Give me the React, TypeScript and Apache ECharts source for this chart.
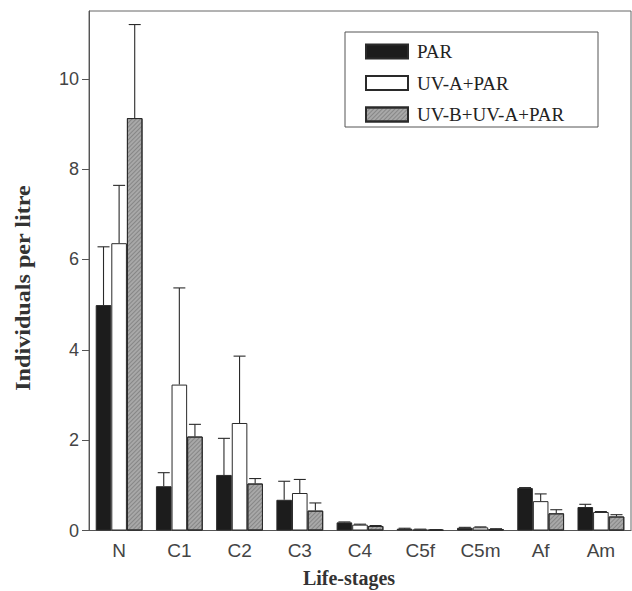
import React, { useEffect, useRef } from "react";
import * as echarts from "echarts";

const categories = ["N", "C1", "C2", "C3", "C4", "C5f", "C5m", "Af", "Am"];
const seriesNames = ["PAR", "UV-A+PAR", "UV-B+UV-A+PAR"];
const parMean = [4.99, 0.98, 1.23, 0.68, 0.18, 0.04, 0.06, 0.94, 0.52];
const parUpper = [6.28, 1.28, 2.04, 1.09, 0.19, 0.05, 0.07, 0.95, 0.58];
const uvaMean = [6.36, 3.23, 2.38, 0.83, 0.13, 0.02, 0.07, 0.65, 0.41];
const uvaUpper = [7.64, 5.37, 3.86, 1.13, 0.14, 0.03, 0.08, 0.81, 0.42];
const uvbMean = [9.13, 2.08, 1.04, 0.44, 0.1, 0.015, 0.03, 0.38, 0.31];
const uvbUpper = [11.2, 2.35, 1.15, 0.61, 0.11, 0.02, 0.04, 0.46, 0.35];
const yTicks = [0, 2, 4, 6, 8, 10];
const xTitle = "Life-stages";
const yTitle = "Individuals per litre";

const BAR_W = 15.6;
const fills = ["#1c1c1c", "#ffffff", "#a8a8a8"];

export default function App() {
  const ref = useRef<HTMLDivElement>(null);
  useEffect(() => {
    if (!ref.current) return;
    const chart = echarts.init(ref.current, undefined, { renderer: "svg" });
    const means = [parMean, uvaMean, uvbMean];
    const uppers = [parUpper, uvaUpper, uvbUpper];

    const barSeries = seriesNames.map((name, i) => ({
      name,
      type: "bar",
      data: means[i],
      barWidth: BAR_W,
      barGap: "0%",
      itemStyle: {
        color: fills[i],
        borderColor: "#2a2a2a",
        borderWidth: 1,
        ...(i === 2
          ? {
              decal: {
                symbol: "rect",
                symbolSize: 1,
                dashArrayX: [1, 0],
                dashArrayY: [1, 2],
                rotation: -Math.PI / 4,
                color: "rgba(70,70,70,0.35)",
              },
            }
          : {}),
      },
      emphasis: { disabled: true },
      z: 2,
    }));

    const errSeries = seriesNames.map((name, i) => ({
      name: name + " error",
      type: "custom",
      data: categories.map((_, k) => [k, means[i][k], uppers[i][k]]),
      encode: { x: 0, y: [1, 2] },
      z: 3,
      silent: true,
      renderItem: (params: any, api: any) => {
        const k = api.value(0);
        const m = api.value(1);
        const u = api.value(2);
        const base = api.coord([k, m]);
        const top = api.coord([k, u]);
        const cx = base[0] + (i - 1) * BAR_W;
        const st = { stroke: "#2a2a2a", lineWidth: 1.1, fill: "none" };
        return {
          type: "group",
          children: [
            { type: "line", shape: { x1: cx, y1: base[1], x2: cx, y2: top[1] }, style: st },
            { type: "line", shape: { x1: cx - 6, y1: top[1], x2: cx + 6, y2: top[1] }, style: st },
          ],
        };
      },
    }));

    chart.setOption({
      animation: false,
      backgroundColor: "#ffffff",
      grid: {
        left: 89,
        top: 11,
        right: 1,
        bottom: 60.5,
        show: true,
        borderColor: "#666666",
        borderWidth: 1,
        containLabel: false,
      },
      legend: {
        data: seriesNames.map((n) => ({ name: n, icon: "rect" })),
        orient: "vertical",
        left: 360,
        top: 37,
        itemWidth: 42,
        itemHeight: 14,
        itemGap: 12.5,
        selectedMode: false,
        textStyle: {
          fontFamily: "Liberation Serif",
          fontSize: 19,
          color: "#222222",
          lineHeight: 19,
          padding: [0, 0, 0, 4],
        },
      },
      graphic: [
        {
          type: "rect",
          shape: { x: 345, y: 32, width: 253, height: 95 },
          style: { fill: "none", stroke: "#555555", lineWidth: 1 },
          silent: true,
        },
        {
          type: "text",
          x: 349,
          y: 578,
          silent: true,
          style: {
            text: xTitle,
            fontFamily: "Liberation Serif",
            fontWeight: "bold",
            fontSize: 20,
            fill: "#333333",
            align: "center",
            verticalAlign: "middle",
          },
        },
        {
          type: "text",
          x: 23,
          y: 288,
          rotation: Math.PI / 2,
          scaleX: 1.15,
          silent: true,
          style: {
            text: yTitle,
            fontFamily: "Liberation Serif",
            fontWeight: "bold",
            fontSize: 21,
            fill: "#333333",
            align: "center",
            verticalAlign: "middle",
          },
        },
      ],
      xAxis: {
        type: "category",
        data: categories,
        axisLine: { lineStyle: { color: "#555555", width: 1 } },
        axisTick: { show: false },
        axisLabel: {
          fontFamily: "Liberation Sans",
          fontSize: 19,
          color: "#444444",
          margin: 10,
        },
      },
      yAxis: {
        type: "value",
        min: 0,
        max: 11.5,
        splitLine: { show: false },
        axisLine: { show: true, lineStyle: { color: "#555555", width: 1 } },
        axisTick: {
          show: true,
          length: 7,
          customValues: yTicks,
          lineStyle: { color: "#555555" },
        },
        axisLabel: {
          customValues: yTicks,
          fontFamily: "Liberation Sans",
          fontSize: 18,
          color: "#444444",
          margin: 10,
        },
      },
      series: [...barSeries, ...errSeries],
    });
    return () => chart.dispose();
  }, []);
  return (
    <div
      ref={ref}
      style={{ position: "fixed", left: 0, top: 0, width: 632, height: 591 }}
    />
  );
}
